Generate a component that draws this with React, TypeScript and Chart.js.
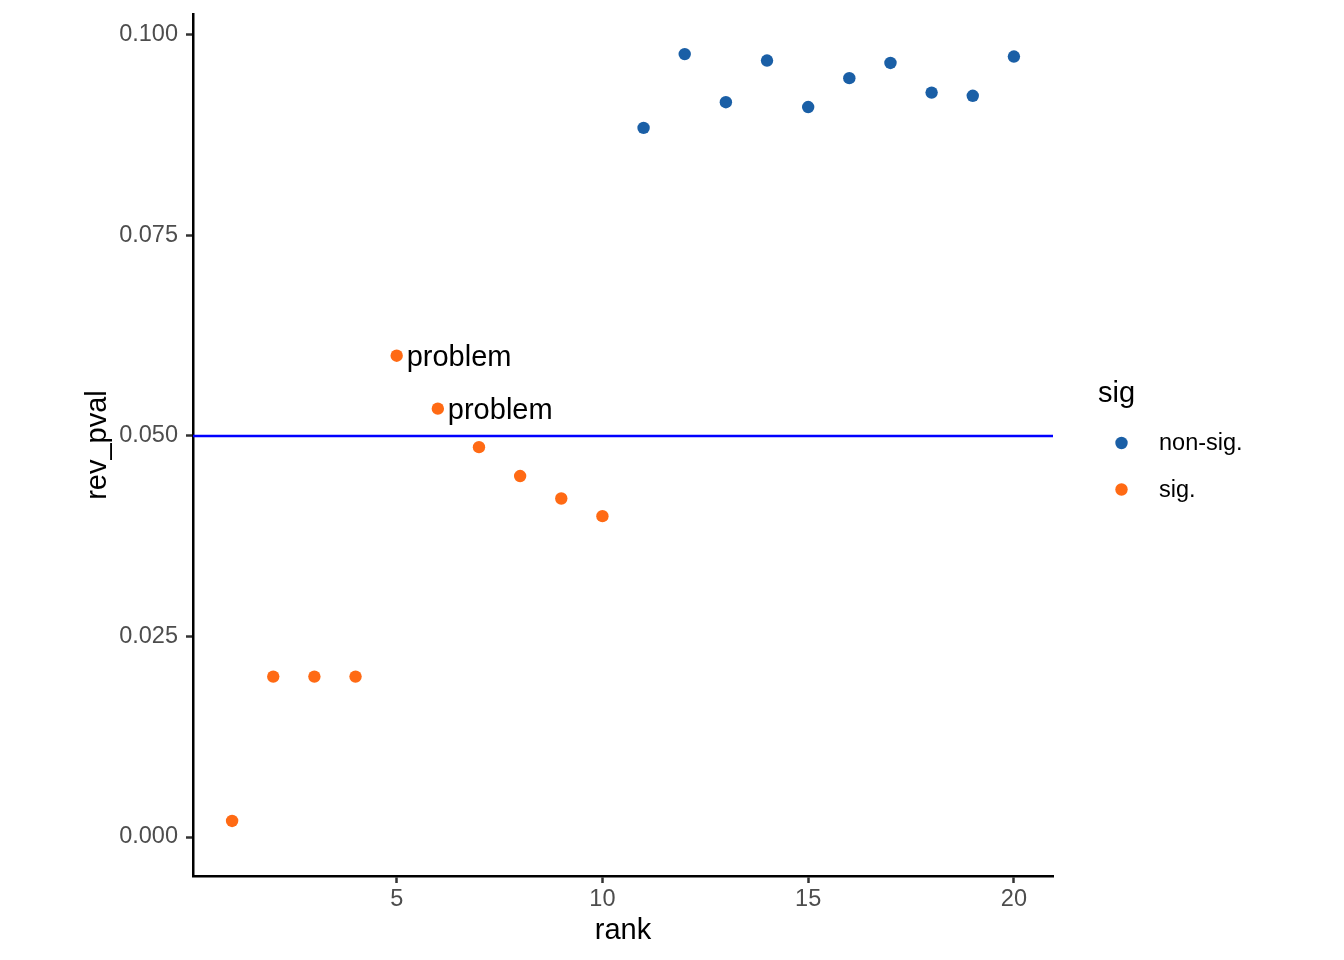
import { Chart, registerables } from "chart.js";
import { useEffect, useRef } from "react";

Chart.register(...registerables);

const sigRank = [1, 2, 3, 4, 5, 6, 7, 8, 9, 10];
const sigPval = [0.002, 0.02, 0.02, 0.02, 0.06, 0.0534, 0.0486, 0.045, 0.0422, 0.04];
const nonSigRank = [11, 12, 13, 14, 15, 16, 17, 18, 19, 20];
const nonSigPval = [0.0884, 0.0976, 0.0916, 0.0968, 0.091, 0.0946, 0.0965, 0.0928, 0.0924, 0.0973];
const xTicks = [5, 10, 15, 20];
const yTicks = [0, 0.025, 0.05, 0.075, 0.1];
const threshold = 0.05;
const problemRanks = [5, 6];
const legendLabels = ["non-sig.", "sig."];

const BLUE = "#1a5fa6";
const ORANGE = "#ff6a14";
const FONT = "'Liberation Sans', Arial, sans-serif";

const annotations = {
  id: "annotations",
  beforeDatasetsDraw(chart: any) {
    const { ctx, chartArea } = chart;
    const y = chart.scales.y.getPixelForValue(threshold);
    ctx.save();
    ctx.strokeStyle = "#0000ff";
    ctx.lineWidth = 2.5;
    ctx.beginPath();
    ctx.moveTo(chartArea.left, y);
    ctx.lineTo(chartArea.right, y);
    ctx.stroke();
    ctx.restore();
  },
  afterDraw(chart: any) {
    const { ctx, chartArea } = chart;
    const xs = chart.scales.x;
    const ys = chart.scales.y;
    ctx.save();
    ctx.fillStyle = "#000";
    ctx.font = `29px ${FONT}`;
    ctx.textBaseline = "middle";

    // "problem" labels beside the points
    ctx.textAlign = "left";
    problemRanks.forEach((r) => {
      const i = sigRank.indexOf(r);
      ctx.fillText("problem", xs.getPixelForValue(r) + 10, ys.getPixelForValue(sigPval[i]) + 2);
    });

    // axis titles
    ctx.textAlign = "center";
    ctx.fillText("rank", (chartArea.left + chartArea.right) / 2, 931);
    ctx.save();
    ctx.translate(98, (chartArea.top + chartArea.bottom) / 2);
    ctx.rotate(-Math.PI / 2);
    ctx.fillText("rev_pval", 0, 0);
    ctx.restore();

    // legend
    ctx.textAlign = "left";
    ctx.fillText("sig", 1098, 394);
    ctx.font = `23.5px ${FONT}`;
    const colors = [BLUE, ORANGE];
    legendLabels.forEach((lab, k) => {
      const cy = 443 + k * 46.5;
      ctx.fillStyle = colors[k];
      ctx.beginPath();
      ctx.arc(1121.5, cy, 6.2, 0, Math.PI * 2);
      ctx.fill();
      ctx.fillStyle = "#000";
      ctx.fillText(lab, 1159, cy + 1);
    });
    ctx.restore();
  },
};

const noEdgePadding = (s: any) => {
  s.paddingTop = 0;
  s.paddingBottom = 0;
  s.paddingLeft = 0;
  s.paddingRight = 0;
};

const App = () => {
  const chartRef = useRef<HTMLCanvasElement>(null);

  useEffect(() => {
    document.body.style.margin = "0";
    if (!chartRef.current) return;
    const ctx = chartRef.current.getContext("2d");
    if (!ctx) return;
    const chart = new Chart(ctx, {
      type: "scatter",
      data: {
        datasets: [
          {
            label: "non-sig.",
            data: nonSigRank.map((x, i) => ({ x, y: nonSigPval[i] })),
            backgroundColor: BLUE,
            pointRadius: 6.2,
            pointBorderWidth: 0,
          },
          {
            label: "sig.",
            data: sigRank.map((x, i) => ({ x, y: sigPval[i] })),
            backgroundColor: ORANGE,
            pointRadius: 6.2,
            pointBorderWidth: 0,
          },
        ],
      },
      options: {
        responsive: false,
        animation: false,
        layout: { padding: { left: 0, top: 14, right: 291, bottom: 0 } },
        plugins: { legend: { display: false }, tooltip: { enabled: false } },
        scales: {
          x: {
            type: "linear",
            min: 0.05,
            max: 20.95,
            afterBuildTicks: (s: any) => {
              s.ticks = xTicks.map((v) => ({ value: v }));
            },
            afterFit: (s: any) => {
              s.height = 84;
              noEdgePadding(s);
            },
            ticks: {
              color: "#4d4d4d",
              font: { family: FONT, size: 23.5 },
              padding: 2,
              maxRotation: 0,
            },
            grid: {
              display: true,
              drawOnChartArea: false,
              drawTicks: true,
              tickLength: 7,
              tickColor: "#333333",
              tickWidth: 2.5,
            },
            border: { display: true, color: "#000", width: 2.5 },
          },
          y: {
            type: "linear",
            min: -0.00486,
            max: 0.1026,
            afterBuildTicks: (s: any) => {
              s.ticks = yTicks.map((v) => ({ value: v }));
            },
            afterFit: (s: any) => {
              s.width = 193;
              noEdgePadding(s);
            },
            ticks: {
              color: "#4d4d4d",
              font: { family: FONT, size: 23.5 },
              padding: 8,
              callback: (v: any) => Number(v).toFixed(3),
            },
            grid: {
              display: true,
              drawOnChartArea: false,
              drawTicks: true,
              tickLength: 7,
              tickColor: "#333333",
              tickWidth: 2.5,
            },
            border: { display: true, color: "#000", width: 2.5 },
          },
        },
      },
      plugins: [annotations],
    });
    return () => chart.destroy();
  }, []);

  return (
    <div style={{ width: 1344, height: 960, background: "#fff" }}>
      <canvas ref={chartRef} width={1344} height={960}></canvas>
    </div>
  );
};

export default App;
